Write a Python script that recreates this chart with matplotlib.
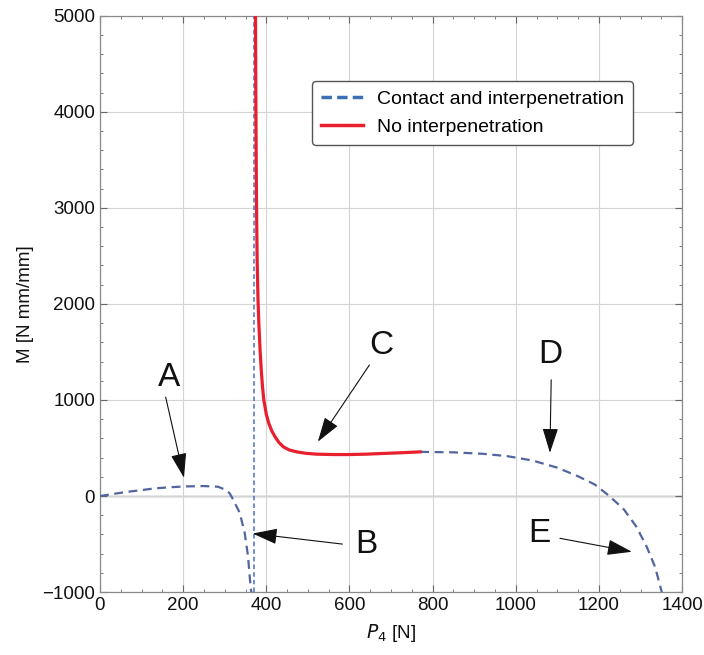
import matplotlib
matplotlib.use("Agg")
import matplotlib.pyplot as plt
from matplotlib.ticker import MultipleLocator, FuncFormatter

plt.rcParams['font.family'] = ['Liberation Sans', 'DejaVu Sans']

# contact and interpenetration, branch A-B
p_ab = [0, 36, 68, 100, 132, 170, 204, 250, 284, 300, 312, 320, 336, 348, 356, 362, 364]
m_ab = [0, 25, 45, 62, 80, 92, 100, 104, 97, 69, 28, -35, -174, -382, -625, -937, -1000]

# contact and interpenetration, vertical branch
p_vert = [371, 371]
m_vert = [-1000, 5000]

# contact and interpenetration, branch D-E
p_de = [770, 850, 920, 980, 1040, 1100, 1150, 1190, 1225, 1260, 1290, 1315, 1335, 1351]
m_de = [460, 455, 440, 415, 370, 295, 205, 120, 0, -140, -320, -530, -740, -1000]

# no interpenetration (C)
p_c = [374, 375, 376, 377, 378, 380, 382, 385, 388, 391, 394, 400, 406, 413, 421,
       430, 441, 455, 473, 495, 521, 560, 600, 640, 679, 720, 770]
m_c = [5000, 4000, 3300, 2800, 2450, 2050, 1800, 1520, 1300, 1130, 1000, 850, 756,
       680, 617, 560, 512, 480, 460, 445, 436, 432, 432, 436, 443, 450, 460]

# labels: letter, text position, arrow tail, arrow tip
labels = ['A', 'B', 'C', 'D', 'E']
label_pos = [(166, 1230), (640, -500), (676, 1570), (1082, 1470), (1056, -390)]
arrow_tail = [(158, 1030), (583, -500), (648, 1365), (1085, 1210), (1106, -440)]
arrow_tip = [(202, 190), (367, -390), (524, 566), (1082, 450), (1279, -580)]

blue = '#52659f'
red = '#e8202e'

fig = plt.figure(figsize=(7.04, 6.55), dpi=100)
ax = fig.add_axes([0.142, 0.096, 0.827, 0.880])

ax.grid(True, color='#d4d4d4', lw=0.8)
ax.axhline(0, color='#8a8a8a', lw=1.0, zorder=1)

ax.plot(p_ab, m_ab, color=blue, lw=1.6, ls=(0, (4, 2.5)), zorder=3)
ax.plot(p_vert, m_vert, color='#4a6fc0', lw=1.1, ls=(0, (3, 2)), zorder=3)
ax.plot(p_de, m_de, color=blue, lw=1.6, ls=(0, (4, 2.5)), zorder=3)
ax.plot(p_c, m_c, color=red, lw=2.3, zorder=4)

for lab, tp, tail, tip in zip(labels, label_pos, arrow_tail, arrow_tip):
    ax.text(tp[0], tp[1], lab, fontsize=24, ha='center', va='center', color='#111111')
    ax.annotate('', xy=tip, xytext=tail,
                arrowprops=dict(arrowstyle='-|>,head_length=1.1,head_width=0.35',
                                color='#111111', lw=0.8, shrinkA=0, shrinkB=0,
                                mutation_scale=14))

# legend proxies
h1, = ax.plot([], [], color='#3d6fb5', lw=2.5, ls=(0, (3, 1.5)))
h2, = ax.plot([], [], color=red, lw=2.5)
leg = ax.legend([h1, h2], ['Contact and interpenetration', 'No interpenetration'],
                loc='upper left', bbox_to_anchor=(0.364, 0.886), borderaxespad=0,
                fontsize=14, frameon=True, fancybox=True, edgecolor='#555555',
                handlelength=2.2, borderpad=0.45, labelspacing=0.55, handletextpad=0.7)
leg.get_frame().set_linewidth(1.0)
leg.get_frame().set_alpha(1)

ax.set_xlim(0, 1400)
ax.set_ylim(-1000, 5000)
ax.xaxis.set_major_locator(MultipleLocator(200))
ax.xaxis.set_minor_locator(MultipleLocator(50))
ax.yaxis.set_major_locator(MultipleLocator(1000))
ax.yaxis.set_minor_locator(MultipleLocator(200))
ax.yaxis.set_major_formatter(FuncFormatter(lambda v, p: ('\u2212%d' % -v) if v < 0 else '%d' % v))

ax.tick_params(which='both', direction='in', top=True, right=True, colors='#666666',
               labelcolor='#111111', labelsize=13.5)
ax.tick_params(which='major', length=5, width=0.8)
ax.tick_params(which='minor', length=2.5, width=0.6)
for s in ax.spines.values():
    s.set_color('#8a8a8a')
    s.set_linewidth(0.9)

ax.set_xlabel('$P_4$ [N]', fontsize=13.5, color='#111111', labelpad=6)
ax.set_ylabel('M [N mm/mm]', fontsize=13.5, color='#111111', labelpad=6)

fig.savefig('out.png', dpi=100)
